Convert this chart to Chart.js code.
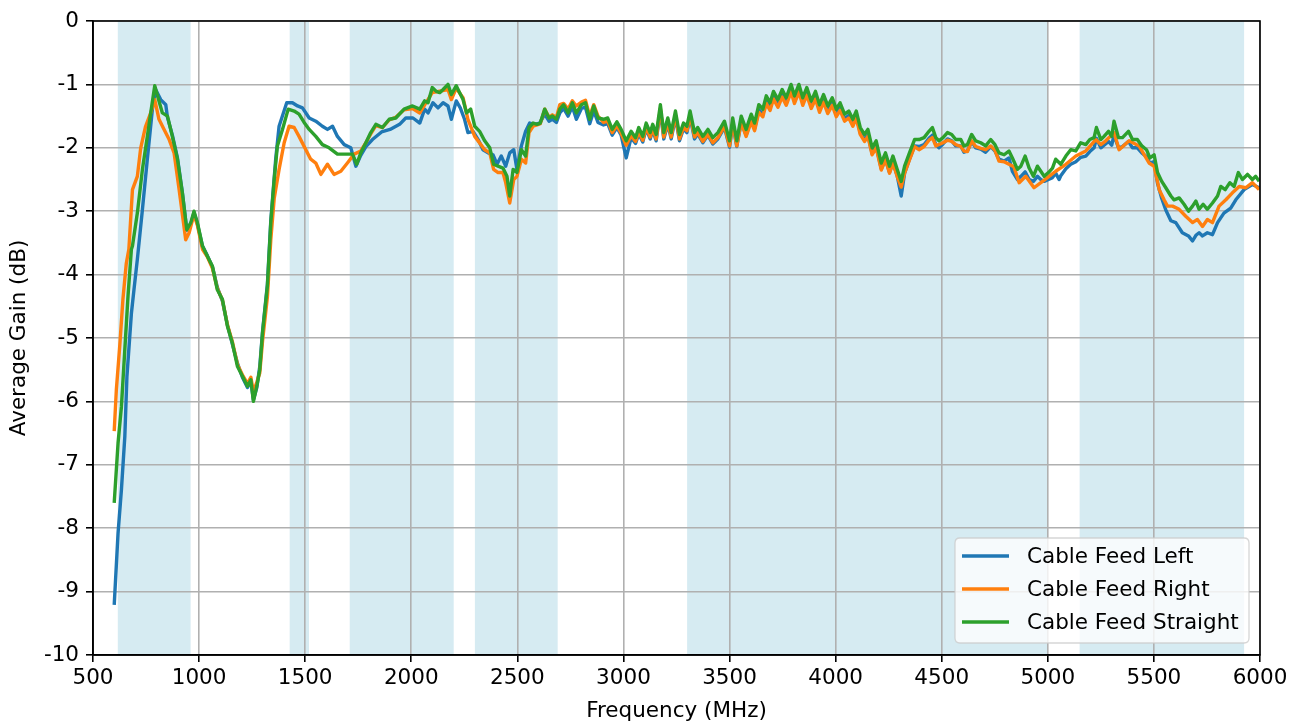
<!DOCTYPE html>
<html>
<head>
<meta charset="utf-8">
<script src="https://cdn.jsdelivr.net/npm/chart.js@4.4.1/dist/chart.umd.min.js"></script>
<style>
  html, body { margin: 0; padding: 0; background: #ffffff; }
  #wrap { width: 1302px; height: 727px; position: relative; }
</style>
</head>
<body>
<div id="wrap"><canvas id="c" width="1302" height="727"></canvas></div>
<script>
// ---------- data ----------
const seriesNames = ['Cable Feed Left', 'Cable Feed Right', 'Cable Feed Straight'];
const seriesColors = ['#1f77b4', '#ff7f0e', '#2ca02c'];

const freqLeft = [600,618,634,650,660,681,693,709,733,756,780,795,819,843,851,874,898,921,942,961,976,992,1016,1039,1063,1086,1110,1134,1157,1181,1204,1228,1244,1256,1272,1286,1299,1322,1338,1361,1377,1413,1440,1464,1487,1519,1550,1581,1605,1629,1652,1684,1715,1739,1762,1786,1817,1860,1900,1945,1974,2008,
 2040,2063,2079,2102,2126,2150,2173,2189,2212,2231,2251,2267,2291,2315,2338,2362,2385,2404,2424,2445,2464,2483,2498,2519,2539,2558,2582,2605,2629,2649,2665,2684,2700,2718,2739,2759,2778,2802,2821,2841,2860,2880,
 2906,2926,2947,2969,2989,3013,3036,3057,3072,3091,3107,3126,3138,3154,3174,3190,3209,3225,3245,3264,3283,3299,3314,3335,3350,3374,3398,3421,3445,3476,3500,3515,3534,3555,3578,3602,3618,3638,3657,3673,3691,3707,3728,3748,3767,3790,3806,3827,3845,3864,3885,3905,3924,3943,3963,3984,4003,4021,4042,4062,4081,4097,4116,4136,4152,4172,4191,4215,4235,4254,4270,4290,4309,4325,4348,4372,
 4393,4417,4440,4456,4472,4487,4506,4527,4547,4566,4590,4605,4621,4641,4660,4684,4707,4731,4751,4770,4794,4817,4833,4857,4873,4893,4912,4932,4951,4967,4983,5003,5022,5037,5053,5061,5085,5108,5132,5155,5179,5198,5218,5229,5250,5265,5286,5301,5312,5333,5352,5380,5399,5422,5443,5465,5481,5501,5517,5537,5556,5580,5603,5634,5663,5682,5698,5713,5729,5752,5776,5800,5830,5862,5886,5925,5964,5996];
const gainLeft = [-9.21,-8.08,-7.39,-6.55,-5.6,-4.61,-4.24,-3.76,-2.97,-2.18,-1.39,-1.08,-1.24,-1.32,-1.52,-1.8,-2.16,-2.7,-3.3,-3.2,-3.02,-3.2,-3.55,-3.7,-3.88,-4.2,-4.42,-4.8,-5.1,-5.4,-5.62,-5.78,-5.68,-5.98,-5.78,-5.45,-4.9,-4.15,-3.15,-2.18,-1.66,-1.29,-1.29,-1.34,-1.37,-1.53,-1.58,-1.66,-1.71,-1.66,-1.82,-1.95,-2.0,-2.29,-2.12,-1.98,-1.87,-1.75,-1.71,-1.63,-1.53,-1.53,
 -1.61,-1.39,-1.45,-1.29,-1.37,-1.29,-1.34,-1.55,-1.26,-1.37,-1.55,-1.76,-1.74,-1.87,-2.03,-2.08,-2.11,-2.26,-2.13,-2.29,-2.08,-2.03,-2.34,-1.97,-1.74,-1.61,-1.63,-1.61,-1.47,-1.58,-1.55,-1.6,-1.45,-1.38,-1.5,-1.35,-1.55,-1.38,-1.36,-1.62,-1.42,-1.6,
 -1.64,-1.62,-1.8,-1.68,-1.8,-2.16,-1.84,-1.93,-1.78,-1.91,-1.7,-1.86,-1.72,-1.89,-1.42,-1.86,-1.63,-1.86,-1.52,-1.89,-1.7,-1.76,-1.52,-1.86,-1.78,-1.92,-1.8,-1.94,-1.86,-1.68,-1.99,-1.62,-1.98,-1.6,-1.8,-1.56,-1.7,-1.4,-1.47,-1.26,-1.37,-1.18,-1.31,-1.15,-1.28,-1.07,-1.25,-1.07,-1.28,-1.12,-1.33,-1.18,-1.39,-1.23,-1.41,-1.28,-1.46,-1.36,-1.54,-1.49,-1.62,-1.5,-1.76,-1.87,-1.8,-2.09,-1.98,-2.33,-2.18,-2.39,-2.23,-2.44,-2.76,-2.4,-2.18,-1.97,
 -1.98,-1.95,-1.85,-1.8,-1.95,-2.0,-1.94,-1.86,-1.89,-1.97,-1.97,-2.07,-2.05,-1.9,-2.0,-2.02,-2.07,-1.98,-2.05,-2.18,-2.21,-2.16,-2.37,-2.5,-2.45,-2.38,-2.5,-2.53,-2.45,-2.5,-2.53,-2.5,-2.47,-2.4,-2.5,-2.44,-2.33,-2.26,-2.22,-2.15,-2.13,-2.06,-2.0,-1.85,-2.0,-1.96,-1.9,-1.96,-1.8,-2.0,-1.98,-1.9,-2.0,-2.0,-2.08,-2.14,-2.24,-2.22,-2.56,-2.8,-2.98,-3.15,-3.18,-3.34,-3.39,-3.47,-3.38,-3.34,-3.39,-3.34,-3.37,-3.18,-3.03,-2.95,-2.82,-2.66,-2.58,-2.63];

const freqRight = [600,610,626,641,657,669,686,709,725,748,772,791,811,835,859,882,906,937,953,976,992,1016,1039,1063,1086,1110,1134,1157,1181,1204,1228,1244,1256,1272,1286,1299,1322,1338,1354,1377,1401,1424,1448,1471,1503,1526,1550,1574,1605,1636,1668,1699,1731,1762,1786,1809,1833,1864,1896,1927,1966,2006,
 2040,2099,2173,2189,2212,2244,2267,2299,2346,2370,2388,2409,2432,2445,2464,2483,2498,2519,2539,2555,2574,2593,2608,2629,2649,2665,2684,2700,2718,2739,2759,2778,2802,2821,2841,2860,2880,
 2906,2926,2947,2969,2989,3013,3036,3057,3072,3091,3107,3126,3138,3154,3174,3190,3209,3225,3245,3264,3283,3299,3314,3335,3350,3374,3398,3421,3445,3476,3500,3515,3534,3555,3578,3602,3618,3638,3657,3673,3691,3707,3728,3748,3767,3790,3806,3827,3845,3864,3885,3905,3924,3943,3963,3984,4003,4021,4042,4062,4081,4097,4116,4136,4152,4172,4191,4215,4235,4254,4270,4290,4309,4325,4348,4372,
 4393,4417,4440,4456,4472,4506,4527,4547,4566,4590,4605,4621,4641,4660,4684,4707,4731,4751,4770,4794,4817,4840,4865,4896,4935,4975,4998,5037,5085,5132,5179,5226,5250,5273,5312,5336,5383,5430,5477,5501,5525,5548,5564,5588,5619,5650,5682,5705,5729,5752,5776,5807,5839,5870,5902,5933,5964,5996];
const gainRight = [-6.47,-5.82,-5.13,-4.39,-3.82,-3.6,-2.66,-2.45,-2.0,-1.66,-1.45,-1.24,-1.55,-1.71,-1.87,-2.08,-2.66,-3.45,-3.34,-3.05,-3.22,-3.6,-3.72,-3.9,-4.22,-4.4,-4.8,-5.06,-5.42,-5.58,-5.72,-5.62,-5.85,-5.7,-5.55,-5.05,-4.35,-3.45,-2.8,-2.34,-1.92,-1.66,-1.68,-1.82,-2.03,-2.18,-2.24,-2.42,-2.26,-2.42,-2.37,-2.24,-2.1,-2.05,-1.92,-1.78,-1.65,-1.68,-1.56,-1.52,-1.4,-1.38,
 -1.45,-1.13,-1.08,-1.24,-1.06,-1.21,-1.55,-1.82,-2.03,-2.08,-2.34,-2.39,-2.39,-2.55,-2.87,-2.5,-2.45,-2.18,-2.24,-1.76,-1.66,-1.64,-1.62,-1.39,-1.52,-1.48,-1.52,-1.32,-1.3,-1.39,-1.26,-1.34,-1.28,-1.25,-1.5,-1.32,-1.5,
 -1.6,-1.58,-1.76,-1.65,-1.77,-1.96,-1.81,-1.9,-1.75,-1.88,-1.68,-1.83,-1.7,-1.86,-1.38,-1.83,-1.6,-1.83,-1.49,-1.86,-1.68,-1.73,-1.49,-1.83,-1.76,-1.9,-1.79,-1.92,-1.84,-1.66,-1.97,-1.61,-1.97,-1.6,-1.82,-1.59,-1.73,-1.44,-1.51,-1.3,-1.41,-1.23,-1.36,-1.2,-1.33,-1.12,-1.3,-1.12,-1.33,-1.17,-1.38,-1.23,-1.44,-1.28,-1.46,-1.33,-1.51,-1.41,-1.58,-1.53,-1.66,-1.53,-1.79,-1.9,-1.82,-2.11,-2.0,-2.35,-2.19,-2.4,-2.24,-2.45,-2.62,-2.4,-2.19,-1.98,
 -2.03,-1.98,-1.88,-1.84,-1.97,-1.92,-1.88,-1.9,-1.95,-1.98,-2.05,-2.06,-1.89,-1.98,-2.01,-2.03,-1.97,-2.04,-2.21,-2.22,-2.26,-2.3,-2.55,-2.45,-2.63,-2.53,-2.47,-2.37,-2.26,-2.13,-2.05,-1.87,-1.95,-1.89,-1.76,-2.03,-1.89,-1.97,-2.24,-2.29,-2.66,-2.82,-2.92,-2.92,-2.97,-3.08,-3.18,-3.13,-3.24,-3.13,-3.18,-2.92,-2.82,-2.71,-2.61,-2.63,-2.55,-2.66];

const freqStraight = [600,618,634,650,665,681,686,709,733,756,772,791,804,827,851,874,898,921,942,961,976,992,1016,1039,1063,1086,1110,1134,1157,1181,1204,1228,1244,1256,1272,1286,1299,1322,1338,1354,1369,1393,1420,1448,1471,1495,1519,1550,1581,1613,1652,1691,1723,1743,1762,1786,1809,1833,1864,1896,1927,1966,2006,
 2040,2063,2079,2099,2118,2134,2150,2173,2189,2212,2228,2244,2260,2280,2299,2322,2346,2370,2388,2409,2432,2451,2464,2480,2498,2519,2539,2555,2574,2593,2608,2629,2649,2665,2684,2700,2718,2739,2759,2778,2802,2821,2841,2860,2880,
 2906,2926,2947,2969,2989,3013,3036,3057,3072,3091,3107,3126,3138,3154,3174,3190,3209,3225,3245,3264,3283,3299,3314,3335,3350,3374,3398,3421,3445,3476,3500,3515,3534,3555,3578,3602,3618,3638,3657,3673,3691,3707,3728,3748,3767,3790,3806,3827,3845,3864,3885,3905,3924,3943,3963,3984,4003,4021,4042,4062,4081,4097,4116,4136,4152,4172,4191,4215,4235,4254,4270,4290,4309,4325,4348,4372,
 4393,4417,4440,4456,4472,4487,4506,4527,4547,4566,4590,4605,4621,4641,4660,4684,4707,4731,4751,4770,4794,4817,4833,4857,4873,4893,4912,4932,4951,4967,4983,5003,5022,5037,5061,5085,5108,5132,5155,5179,5198,5218,5229,5250,5265,5286,5301,5312,5333,5352,5380,5399,5422,5443,5465,5481,5501,5517,5537,5556,5580,5595,5619,5642,5663,5682,5698,5713,5732,5752,5776,5800,5815,5836,5858,5878,5898,5917,5941,5964,5980,5996];
const gainStraight = [-7.6,-6.66,-6.08,-5.18,-4.34,-3.6,-3.55,-3.03,-2.34,-1.82,-1.45,-1.02,-1.18,-1.45,-1.5,-1.82,-2.18,-2.71,-3.29,-3.18,-3.0,-3.18,-3.55,-3.71,-3.87,-4.24,-4.39,-4.82,-5.08,-5.45,-5.6,-5.76,-5.66,-6.0,-5.76,-5.5,-4.92,-4.18,-3.18,-2.5,-1.97,-1.71,-1.39,-1.42,-1.47,-1.6,-1.71,-1.82,-1.95,-2.0,-2.1,-2.1,-2.1,-2.26,-2.08,-1.92,-1.76,-1.63,-1.68,-1.55,-1.53,-1.39,-1.34,
 -1.39,-1.26,-1.29,-1.05,-1.11,-1.13,-1.08,-1.0,-1.16,-1.02,-1.13,-1.24,-1.45,-1.39,-1.66,-1.74,-1.89,-2.0,-2.26,-2.29,-2.32,-2.45,-2.76,-2.34,-2.39,-2.03,-2.13,-1.68,-1.61,-1.63,-1.61,-1.39,-1.53,-1.5,-1.55,-1.39,-1.32,-1.45,-1.29,-1.45,-1.32,-1.29,-1.55,-1.34,-1.53,
 -1.55,-1.53,-1.71,-1.59,-1.71,-1.89,-1.74,-1.84,-1.68,-1.82,-1.61,-1.76,-1.63,-1.79,-1.32,-1.76,-1.53,-1.76,-1.42,-1.79,-1.61,-1.66,-1.42,-1.76,-1.68,-1.82,-1.71,-1.84,-1.76,-1.58,-1.89,-1.53,-1.89,-1.5,-1.71,-1.47,-1.61,-1.32,-1.39,-1.18,-1.29,-1.11,-1.24,-1.08,-1.21,-1.0,-1.18,-1.0,-1.21,-1.05,-1.26,-1.11,-1.32,-1.16,-1.34,-1.21,-1.39,-1.29,-1.47,-1.42,-1.55,-1.42,-1.68,-1.79,-1.71,-2.0,-1.89,-2.24,-2.08,-2.29,-2.13,-2.34,-2.53,-2.29,-2.08,-1.87,
 -1.87,-1.84,-1.74,-1.68,-1.84,-1.89,-1.84,-1.76,-1.79,-1.87,-1.87,-1.97,-1.95,-1.79,-1.89,-1.92,-1.97,-1.87,-1.95,-2.08,-2.11,-2.05,-2.16,-2.34,-2.29,-2.13,-2.32,-2.45,-2.29,-2.37,-2.45,-2.39,-2.32,-2.18,-2.26,-2.13,-2.03,-2.05,-1.92,-1.95,-1.87,-1.84,-1.68,-1.87,-1.82,-1.74,-1.82,-1.58,-1.84,-1.84,-1.74,-1.87,-1.87,-1.97,-2.03,-2.16,-2.11,-2.39,-2.53,-2.63,-2.76,-2.82,-2.79,-2.89,-3.0,-2.92,-2.84,-2.97,-2.89,-2.97,-2.87,-2.76,-2.61,-2.66,-2.55,-2.61,-2.39,-2.5,-2.42,-2.5,-2.45,-2.53];

// shaded frequency bands (MHz)
const bandStart = [617, 1427, 1710, 2300, 3300, 5150];
const bandEnd   = [960, 1518, 2200, 2690, 5000, 5925];

const xMin = 500, xMax = 6000, xStep = 500;
const yMin = -10, yMax = 0, yStep = 1;

// ---------- chart ----------
const FONT = 'DejaVu Sans';
const FS = 21.5;

function pairs(xs, ys) { return xs.map((x, i) => ({ x: x, y: ys[i] })); }

const bandsPlugin = {
  id: 'bands',
  beforeDraw(chart) {
    const { ctx, chartArea, scales } = chart;
    ctx.save();
    ctx.fillStyle = 'rgba(173,216,230,0.5)';
    for (let i = 0; i < bandStart.length; i++) {
      const x0 = scales.x.getPixelForValue(bandStart[i]);
      const x1 = scales.x.getPixelForValue(bandEnd[i]);
      ctx.fillRect(x0, chartArea.top, x1 - x0, chartArea.bottom - chartArea.top);
    }
    ctx.restore();
  }
};

const frameLegendPlugin = {
  id: 'frameLegend',
  afterDraw(chart) {
    const { ctx, chartArea: a } = chart;
    ctx.save();
    ctx.strokeStyle = '#000';
    ctx.lineWidth = 1.6;
    ctx.strokeRect(a.left, a.top, a.right - a.left, a.bottom - a.top);
    const bx = 955, by = 538, bw = 294, bh = 105, r = 5;
    ctx.beginPath();
    ctx.moveTo(bx + r, by);
    ctx.lineTo(bx + bw - r, by);
    ctx.quadraticCurveTo(bx + bw, by, bx + bw, by + r);
    ctx.lineTo(bx + bw, by + bh - r);
    ctx.quadraticCurveTo(bx + bw, by + bh, bx + bw - r, by + bh);
    ctx.lineTo(bx + r, by + bh);
    ctx.quadraticCurveTo(bx, by + bh, bx, by + bh - r);
    ctx.lineTo(bx, by + r);
    ctx.quadraticCurveTo(bx, by, bx + r, by);
    ctx.closePath();
    ctx.fillStyle = 'rgba(255,255,255,0.8)';
    ctx.fill();
    ctx.strokeStyle = 'rgba(204,204,204,0.8)';
    ctx.lineWidth = 1.3;
    ctx.stroke();
    ctx.font = FS + 'px "' + FONT + '"';
    ctx.textBaseline = 'middle';
    ctx.textAlign = 'left';
    for (let i = 0; i < seriesNames.length; i++) {
      const yy = 556 + i * 33;
      ctx.strokeStyle = seriesColors[i];
      ctx.lineWidth = 3.4;
      ctx.beginPath();
      ctx.moveTo(962, yy);
      ctx.lineTo(1009, yy);
      ctx.stroke();
      ctx.fillStyle = '#000';
      ctx.fillText(seriesNames[i], 1027, yy + 1);
    }
    ctx.restore();
  }
};

const chart = new Chart(document.getElementById('c'), {
  type: 'line',
  data: {
    datasets: [
      { label: seriesNames[0], data: pairs(freqLeft, gainLeft), borderColor: seriesColors[0], order: 3 },
      { label: seriesNames[1], data: pairs(freqRight, gainRight), borderColor: seriesColors[1], order: 2 },
      { label: seriesNames[2], data: pairs(freqStraight, gainStraight), borderColor: seriesColors[2], order: 1 }
    ].map(d => Object.assign(d, { borderWidth: 3.4, pointRadius: 0, tension: 0, fill: false, borderJoinStyle: 'round', borderCapStyle: 'butt' }))
  },
  options: {
    responsive: false,
    animation: false,
    devicePixelRatio: 1,
    layout: { padding: { top: 21, right: 42, left: 0, bottom: 0 } },
    plugins: { legend: { display: false }, tooltip: { enabled: false } },
    scales: {
      x: {
        type: 'linear', min: xMin, max: xMax,
        afterFit(s) { s.height = 72; },
        ticks: { stepSize: xStep, color: '#000', font: { family: FONT, size: FS }, padding: 4, maxRotation: 0, autoSkip: false, callback: v => String(v) },
        grid: { color: '#b0b0b0', lineWidth: 1.6, tickColor: '#000', tickLength: 7, tickWidth: 1.6 },
        border: { display: true, color: '#000', width: 1.6 },
        title: { display: true, text: 'Frequency (MHz)', color: '#000', font: { family: FONT, size: FS, lineHeight: 1.2 }, padding: { top: 0, bottom: 3 } }
      },
      y: {
        type: 'linear', min: yMin, max: yMax,
        afterFit(s) { s.width = 93; },
        ticks: { stepSize: yStep, color: '#000', font: { family: FONT, size: FS }, padding: 7, autoSkip: false, callback: v => String(v) },
        grid: { color: '#b0b0b0', lineWidth: 1.6, tickColor: '#000', tickLength: 7, tickWidth: 1.6 },
        border: { display: true, color: '#000', width: 1.6 },
        title: { display: true, text: 'Average Gain (dB)', color: '#000', font: { family: FONT, size: FS, lineHeight: 1.2 }, padding: { top: 7, bottom: 0 } }
      }
    }
  },
  plugins: [bandsPlugin, frameLegendPlugin]
});
</script>
</body>
</html>
